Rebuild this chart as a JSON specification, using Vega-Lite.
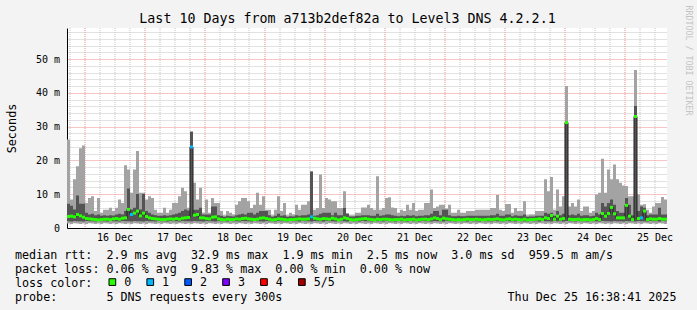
{
  "$schema": "https://vega.github.io/schema/vega-lite/v6.json",
  "width": 600,
  "height": 200,
  "autosize": {"type": "none"},
  "padding": {"left": 67, "top": 28, "right": 30, "bottom": 82},
  "background": "#f3f3f3",
  "config": {
    "font": "DejaVu Sans Mono",
    "view": {"fill": "#ffffff", "stroke": null},
    "axis": {"labelFont": "DejaVu Sans Mono", "titleFont": "DejaVu Sans Mono", "labelColor": "#000000", "titleColor": "#000000", "titleFontWeight": "normal"},
    "tick": {"opacity": 1}
  },
  "title": {
    "text": "Last 10 Days from a713b2def82a to Level3 DNS 4.2.2.1",
    "font": "DejaVu Sans Mono", "fontSize": 13.3, "fontWeight": "normal", "color": "#000000",
    "anchor": "middle", "frame": "group", "dx": -19.5, "offset": -31.5, "baseline": "alphabetic"
  },
  "data": {"values": [
{"t":"2025-12-15T17:00Z","lo":1.3,"a":2,"m":3.4,"b":7.2,"hi":26.2,"l":"0"},
{"t":"2025-12-15T18:12Z","lo":1.2,"a":1.9,"m":3.5,"b":6.6,"hi":8.4,"l":"0"},
{"t":"2025-12-15T19:24Z","lo":1.4,"a":2.1,"m":3.3,"b":5.5,"hi":14.4,"l":"0"},
{"t":"2025-12-15T20:36Z","lo":1.3,"a":2,"m":4,"b":9.6,"hi":18.3,"l":"0"},
{"t":"2025-12-15T21:48Z","lo":1.2,"a":2,"m":3.6,"b":7.2,"hi":23.6,"l":"0"},
{"t":"2025-12-15T23:00Z","lo":1.3,"a":1.9,"m":3.2,"b":7.2,"hi":24.4,"l":"0"},
{"t":"2025-12-16T00:12Z","lo":1.2,"a":2.1,"m":2.8,"b":4.5,"hi":7.4,"l":"0"},
{"t":"2025-12-16T01:24Z","lo":1.4,"a":2,"m":2.7,"b":4,"hi":8.9,"l":"0"},
{"t":"2025-12-16T02:36Z","lo":1.3,"a":2,"m":2.6,"b":4.2,"hi":9.4,"l":"0"},
{"t":"2025-12-16T03:48Z","lo":1.2,"a":1.9,"m":2.5,"b":3.8,"hi":5,"l":"0"},
{"t":"2025-12-16T05:00Z","lo":1.3,"a":2.1,"m":2.4,"b":4,"hi":8.9,"l":"0"},
{"t":"2025-12-16T06:12Z","lo":1.2,"a":2,"m":2.5,"b":3.6,"hi":4.5,"l":"0"},
{"t":"2025-12-16T07:24Z","lo":1.4,"a":2,"m":2.6,"b":3.8,"hi":5.4,"l":"0"},
{"t":"2025-12-16T08:36Z","lo":1.3,"a":1.9,"m":2.6,"b":3.6,"hi":5.4,"l":"0"},
{"t":"2025-12-16T09:48Z","lo":1.2,"a":2.1,"m":2.5,"b":3.8,"hi":6,"l":"0"},
{"t":"2025-12-16T11:00Z","lo":1.3,"a":2,"m":2.7,"b":3.7,"hi":5,"l":"0"},
{"t":"2025-12-16T12:12Z","lo":1.2,"a":2,"m":2.8,"b":4,"hi":6,"l":"0"},
{"t":"2025-12-16T13:24Z","lo":1.4,"a":1.9,"m":2.6,"b":4.2,"hi":8.4,"l":"0"},
{"t":"2025-12-16T14:36Z","lo":1.3,"a":2.1,"m":2.9,"b":4,"hi":7.4,"l":"0"},
{"t":"2025-12-16T15:48Z","lo":1.2,"a":2,"m":3,"b":5,"hi":18.6,"l":"0"},
{"t":"2025-12-16T17:00Z","lo":1.3,"a":2,"m":5.5,"b":11.7,"hi":17.3,"l":"0"},
{"t":"2025-12-16T18:12Z","lo":1.2,"a":1.9,"m":4,"b":5.5,"hi":10.4,"l":"1"},
{"t":"2025-12-16T19:24Z","lo":1.4,"a":2.1,"m":4.4,"b":6,"hi":17.3,"l":"0"},
{"t":"2025-12-16T20:36Z","lo":1.3,"a":2,"m":5,"b":10.1,"hi":22.8,"l":"0"},
{"t":"2025-12-16T21:48Z","lo":1.2,"a":2,"m":3.6,"b":5.5,"hi":10.4,"l":"0"},
{"t":"2025-12-16T23:00Z","lo":1.3,"a":1.9,"m":4.4,"b":10.1,"hi":10.4,"l":"0"},
{"t":"2025-12-17T00:12Z","lo":1.2,"a":2.1,"m":3.4,"b":5,"hi":8.4,"l":"0"},
{"t":"2025-12-17T01:24Z","lo":1.4,"a":2,"m":3,"b":4.5,"hi":9.4,"l":"0"},
{"t":"2025-12-17T02:36Z","lo":1.3,"a":2,"m":2.8,"b":4,"hi":8.9,"l":"0"},
{"t":"2025-12-17T03:48Z","lo":1.2,"a":1.9,"m":2.7,"b":3.8,"hi":5.4,"l":"0"},
{"t":"2025-12-17T05:00Z","lo":1.3,"a":2.1,"m":2.6,"b":3.6,"hi":4.5,"l":"0"},
{"t":"2025-12-17T06:12Z","lo":1.2,"a":2,"m":2.5,"b":3.6,"hi":4.5,"l":"0"},
{"t":"2025-12-17T07:24Z","lo":1.4,"a":2,"m":2.5,"b":3.8,"hi":6,"l":"0"},
{"t":"2025-12-17T08:36Z","lo":1.3,"a":1.9,"m":2.6,"b":3.6,"hi":4.5,"l":"0"},
{"t":"2025-12-17T09:48Z","lo":1.2,"a":2.1,"m":2.7,"b":3.8,"hi":5.4,"l":"0"},
{"t":"2025-12-17T11:00Z","lo":1.3,"a":2,"m":2.6,"b":4,"hi":7.4,"l":"0"},
{"t":"2025-12-17T12:12Z","lo":1.2,"a":2,"m":2.8,"b":4.2,"hi":7.4,"l":"0"},
{"t":"2025-12-17T13:24Z","lo":1.4,"a":1.9,"m":2.6,"b":4.5,"hi":9.4,"l":"0"},
{"t":"2025-12-17T14:36Z","lo":1.3,"a":2.1,"m":2.9,"b":5,"hi":11.9,"l":"0"},
{"t":"2025-12-17T15:48Z","lo":1.2,"a":2,"m":3,"b":5.5,"hi":10.9,"l":"0"},
{"t":"2025-12-17T17:00Z","lo":1.3,"a":2,"m":3.1,"b":5.2,"hi":6,"l":"0"},
{"t":"2025-12-17T18:12Z","lo":1.2,"a":1.9,"m":24,"b":28.5,"hi":28.6,"l":"1"},
{"t":"2025-12-17T19:24Z","lo":1.4,"a":2.1,"m":3.8,"b":5.4,"hi":13.4,"l":"0"},
{"t":"2025-12-17T20:36Z","lo":1.3,"a":2,"m":4,"b":5.4,"hi":8.4,"l":"0"},
{"t":"2025-12-17T21:48Z","lo":1.2,"a":2,"m":3,"b":6,"hi":11.9,"l":"0"},
{"t":"2025-12-17T23:00Z","lo":1.3,"a":1.9,"m":3,"b":4,"hi":4.5,"l":"0"},
{"t":"2025-12-18T00:12Z","lo":1.2,"a":2.1,"m":2.8,"b":4,"hi":8.4,"l":"0"},
{"t":"2025-12-18T01:24Z","lo":1.4,"a":2,"m":2.7,"b":4,"hi":4.5,"l":"0"},
{"t":"2025-12-18T02:36Z","lo":1.3,"a":2,"m":3.2,"b":6.4,"hi":8.9,"l":"0"},
{"t":"2025-12-18T03:48Z","lo":1.2,"a":1.9,"m":3.3,"b":6.4,"hi":7.4,"l":"0"},
{"t":"2025-12-18T05:00Z","lo":1.3,"a":2.1,"m":2.7,"b":3.8,"hi":7.4,"l":"0"},
{"t":"2025-12-18T06:12Z","lo":1.2,"a":2,"m":2.5,"b":3.6,"hi":5,"l":"0"},
{"t":"2025-12-18T07:24Z","lo":1.4,"a":2,"m":2.4,"b":3.3,"hi":3.8,"l":"0"},
{"t":"2025-12-18T08:36Z","lo":1.3,"a":1.9,"m":2.6,"b":3.6,"hi":5,"l":"0"},
{"t":"2025-12-18T09:48Z","lo":1.2,"a":2.1,"m":2.5,"b":3.5,"hi":4.5,"l":"0"},
{"t":"2025-12-18T11:00Z","lo":1.3,"a":2,"m":2.5,"b":3.4,"hi":4,"l":"0"},
{"t":"2025-12-18T12:12Z","lo":1.2,"a":2,"m":2.7,"b":3.8,"hi":6.9,"l":"0"},
{"t":"2025-12-18T13:24Z","lo":1.4,"a":1.9,"m":2.6,"b":4,"hi":7.9,"l":"0"},
{"t":"2025-12-18T14:36Z","lo":1.3,"a":2.1,"m":2.8,"b":4.2,"hi":8.9,"l":"0"},
{"t":"2025-12-18T15:48Z","lo":1.2,"a":2,"m":2.9,"b":4,"hi":8.9,"l":"0"},
{"t":"2025-12-18T17:00Z","lo":1.3,"a":2,"m":2.7,"b":4.5,"hi":7.9,"l":"0"},
{"t":"2025-12-18T18:12Z","lo":1.2,"a":1.9,"m":2.6,"b":4.5,"hi":5.9,"l":"0"},
{"t":"2025-12-18T19:24Z","lo":1.4,"a":2.1,"m":2.5,"b":4,"hi":6.9,"l":"0"},
{"t":"2025-12-18T20:36Z","lo":1.3,"a":2,"m":2.6,"b":4.5,"hi":10.4,"l":"0"},
{"t":"2025-12-18T21:48Z","lo":1.2,"a":2,"m":2.9,"b":5,"hi":6.9,"l":"0"},
{"t":"2025-12-18T23:00Z","lo":1.3,"a":1.9,"m":3,"b":5,"hi":9.4,"l":"0"},
{"t":"2025-12-19T00:12Z","lo":1.2,"a":2.1,"m":2.8,"b":5,"hi":5.4,"l":"0"},
{"t":"2025-12-19T01:24Z","lo":1.4,"a":2,"m":2.6,"b":3.8,"hi":5.4,"l":"0"},
{"t":"2025-12-19T02:36Z","lo":1.3,"a":2,"m":2.4,"b":3.3,"hi":3.8,"l":"0"},
{"t":"2025-12-19T03:48Z","lo":1.2,"a":1.9,"m":2.5,"b":3.6,"hi":5.4,"l":"0"},
{"t":"2025-12-19T05:00Z","lo":1.3,"a":2.1,"m":2.7,"b":4.2,"hi":9.4,"l":"0"},
{"t":"2025-12-19T06:12Z","lo":1.2,"a":2,"m":2.6,"b":3.6,"hi":5,"l":"0"},
{"t":"2025-12-19T07:24Z","lo":1.4,"a":2,"m":2.5,"b":3.8,"hi":7.4,"l":"0"},
{"t":"2025-12-19T08:36Z","lo":1.3,"a":1.9,"m":2.4,"b":3.3,"hi":3.8,"l":"0"},
{"t":"2025-12-19T09:48Z","lo":1.2,"a":2.1,"m":2.5,"b":3.5,"hi":4.5,"l":"0"},
{"t":"2025-12-19T11:00Z","lo":1.3,"a":2,"m":2.5,"b":3.4,"hi":4,"l":"0"},
{"t":"2025-12-19T12:12Z","lo":1.2,"a":2,"m":2.6,"b":3.8,"hi":6.9,"l":"0"},
{"t":"2025-12-19T13:24Z","lo":1.4,"a":1.9,"m":2.7,"b":3.6,"hi":5.4,"l":"0"},
{"t":"2025-12-19T14:36Z","lo":1.3,"a":2.1,"m":2.6,"b":3.8,"hi":6.9,"l":"0"},
{"t":"2025-12-19T15:48Z","lo":1.2,"a":2,"m":2.6,"b":3.8,"hi":6.9,"l":"0"},
{"t":"2025-12-19T17:00Z","lo":1.3,"a":2,"m":2.7,"b":4,"hi":7.9,"l":"0"},
{"t":"2025-12-19T18:12Z","lo":1.2,"a":1.9,"m":3.3,"b":16.7,"hi":16.7,"l":"1"},
{"t":"2025-12-19T19:24Z","lo":1.4,"a":2.1,"m":2.9,"b":3.6,"hi":5.4,"l":"0"},
{"t":"2025-12-19T20:36Z","lo":1.3,"a":2,"m":2.7,"b":3.8,"hi":5.9,"l":"0"},
{"t":"2025-12-19T21:48Z","lo":1.2,"a":2,"m":2.6,"b":4.2,"hi":15.8,"l":"0"},
{"t":"2025-12-19T23:00Z","lo":1.3,"a":1.9,"m":2.8,"b":4.5,"hi":5.9,"l":"0"},
{"t":"2025-12-20T00:12Z","lo":1.2,"a":2.1,"m":2.7,"b":4.5,"hi":8.9,"l":"0"},
{"t":"2025-12-20T01:24Z","lo":1.4,"a":2,"m":2.6,"b":4.5,"hi":8.4,"l":"0"},
{"t":"2025-12-20T02:36Z","lo":1.3,"a":2,"m":2.9,"b":3.8,"hi":7.9,"l":"0"},
{"t":"2025-12-20T03:48Z","lo":1.2,"a":1.9,"m":2.7,"b":4.5,"hi":7.9,"l":"0"},
{"t":"2025-12-20T05:00Z","lo":1.3,"a":2.1,"m":2.4,"b":3.8,"hi":5.9,"l":"0"},
{"t":"2025-12-20T06:12Z","lo":1.2,"a":2,"m":2.6,"b":3.8,"hi":5.9,"l":"0"},
{"t":"2025-12-20T07:24Z","lo":1.4,"a":2,"m":3,"b":5.9,"hi":10.9,"l":"0"},
{"t":"2025-12-20T08:36Z","lo":1.3,"a":1.9,"m":2.8,"b":4.2,"hi":4.4,"l":"0"},
{"t":"2025-12-20T09:48Z","lo":1.2,"a":2.1,"m":2.5,"b":3.4,"hi":3.8,"l":"0"},
{"t":"2025-12-20T11:00Z","lo":1.3,"a":2,"m":2.4,"b":3.4,"hi":3.8,"l":"0"},
{"t":"2025-12-20T12:12Z","lo":1.2,"a":2,"m":2.5,"b":3.6,"hi":4.5,"l":"0"},
{"t":"2025-12-20T13:24Z","lo":1.4,"a":1.9,"m":2.6,"b":3.6,"hi":4.5,"l":"0"},
{"t":"2025-12-20T14:36Z","lo":1.3,"a":2.1,"m":2.7,"b":3.8,"hi":6.1,"l":"0"},
{"t":"2025-12-20T15:48Z","lo":1.2,"a":2,"m":2.8,"b":3.8,"hi":6.1,"l":"0"},
{"t":"2025-12-20T17:00Z","lo":1.3,"a":2,"m":2.6,"b":3.8,"hi":6.9,"l":"0"},
{"t":"2025-12-20T18:12Z","lo":1.2,"a":1.9,"m":2.5,"b":3.6,"hi":5.9,"l":"0"},
{"t":"2025-12-20T19:24Z","lo":1.4,"a":2.1,"m":2.4,"b":3.6,"hi":5.4,"l":"0"},
{"t":"2025-12-20T20:36Z","lo":1.3,"a":2,"m":2.6,"b":4.2,"hi":15.3,"l":"0"},
{"t":"2025-12-20T21:48Z","lo":1.2,"a":2,"m":2.5,"b":3.6,"hi":5.4,"l":"0"},
{"t":"2025-12-20T23:00Z","lo":1.3,"a":1.9,"m":2.6,"b":3.8,"hi":5.9,"l":"0"},
{"t":"2025-12-21T00:12Z","lo":1.2,"a":2.1,"m":2.6,"b":4,"hi":8.9,"l":"0"},
{"t":"2025-12-21T01:24Z","lo":1.4,"a":2,"m":2.5,"b":4,"hi":9.1,"l":"0"},
{"t":"2025-12-21T02:36Z","lo":1.3,"a":2,"m":2.4,"b":3.8,"hi":6.1,"l":"0"},
{"t":"2025-12-21T03:48Z","lo":1.2,"a":1.9,"m":2.5,"b":3.6,"hi":5.9,"l":"0"},
{"t":"2025-12-21T05:00Z","lo":1.3,"a":2.1,"m":2.5,"b":3.5,"hi":4.5,"l":"0"},
{"t":"2025-12-21T06:12Z","lo":1.2,"a":2,"m":2.6,"b":3.6,"hi":5.4,"l":"0"},
{"t":"2025-12-21T07:24Z","lo":1.4,"a":2,"m":2.4,"b":3.5,"hi":5,"l":"0"},
{"t":"2025-12-21T08:36Z","lo":1.3,"a":1.9,"m":2.5,"b":3.8,"hi":6.9,"l":"0"},
{"t":"2025-12-21T09:48Z","lo":1.2,"a":2.1,"m":2.5,"b":3.6,"hi":5.4,"l":"0"},
{"t":"2025-12-21T11:00Z","lo":1.3,"a":2,"m":2.6,"b":3.8,"hi":7.4,"l":"0"},
{"t":"2025-12-21T12:12Z","lo":1.2,"a":2,"m":2.4,"b":3.5,"hi":5,"l":"0"},
{"t":"2025-12-21T13:24Z","lo":1.4,"a":1.9,"m":2.5,"b":3.6,"hi":5.4,"l":"0"},
{"t":"2025-12-21T14:36Z","lo":1.3,"a":2.1,"m":2.6,"b":3.6,"hi":5.4,"l":"0"},
{"t":"2025-12-21T15:48Z","lo":1.2,"a":2,"m":2.6,"b":3.8,"hi":7.4,"l":"0"},
{"t":"2025-12-21T17:00Z","lo":1.3,"a":2,"m":2.5,"b":3.8,"hi":7.4,"l":"0"},
{"t":"2025-12-21T18:12Z","lo":1.2,"a":1.9,"m":2.7,"b":4.2,"hi":11.4,"l":"0"},
{"t":"2025-12-21T19:24Z","lo":1.4,"a":2.1,"m":3,"b":5,"hi":5.9,"l":"0"},
{"t":"2025-12-21T20:36Z","lo":1.3,"a":2,"m":2.8,"b":5,"hi":6.4,"l":"0"},
{"t":"2025-12-21T21:48Z","lo":1.2,"a":2,"m":2.5,"b":3.8,"hi":6.9,"l":"0"},
{"t":"2025-12-21T23:00Z","lo":1.3,"a":1.9,"m":2.9,"b":5.4,"hi":6.9,"l":"0"},
{"t":"2025-12-22T00:12Z","lo":1.2,"a":2.1,"m":2.7,"b":5.4,"hi":5.8,"l":"0"},
{"t":"2025-12-22T01:24Z","lo":1.4,"a":2,"m":2.6,"b":3.8,"hi":6.9,"l":"0"},
{"t":"2025-12-22T02:36Z","lo":1.3,"a":2,"m":2.5,"b":3.5,"hi":4.5,"l":"0"},
{"t":"2025-12-22T03:48Z","lo":1.2,"a":1.9,"m":2.4,"b":3.5,"hi":4.5,"l":"0"},
{"t":"2025-12-22T05:00Z","lo":1.3,"a":2.1,"m":2.5,"b":3.6,"hi":5.4,"l":"0"},
{"t":"2025-12-22T06:12Z","lo":1.2,"a":2,"m":2.4,"b":3.5,"hi":4.5,"l":"0"},
{"t":"2025-12-22T07:24Z","lo":1.4,"a":2,"m":2.5,"b":3.5,"hi":4.5,"l":"0"},
{"t":"2025-12-22T08:36Z","lo":1.3,"a":1.9,"m":2.6,"b":3.6,"hi":5,"l":"0"},
{"t":"2025-12-22T09:48Z","lo":1.2,"a":2.1,"m":2.5,"b":3.6,"hi":5,"l":"0"},
{"t":"2025-12-22T11:00Z","lo":1.3,"a":2,"m":2.5,"b":3.6,"hi":5,"l":"0"},
{"t":"2025-12-22T12:12Z","lo":1.2,"a":2,"m":2.6,"b":3.6,"hi":5.4,"l":"0"},
{"t":"2025-12-22T13:24Z","lo":1.4,"a":1.9,"m":2.5,"b":3.6,"hi":5.4,"l":"0"},
{"t":"2025-12-22T14:36Z","lo":1.3,"a":2.1,"m":2.4,"b":3.6,"hi":5.4,"l":"0"},
{"t":"2025-12-22T15:48Z","lo":1.2,"a":2,"m":2.5,"b":3.6,"hi":5.4,"l":"0"},
{"t":"2025-12-22T17:00Z","lo":1.3,"a":2,"m":2.6,"b":3.6,"hi":5.4,"l":"0"},
{"t":"2025-12-22T18:12Z","lo":1.2,"a":1.9,"m":2.5,"b":3.8,"hi":5.9,"l":"0"},
{"t":"2025-12-22T19:24Z","lo":1.4,"a":2.1,"m":2.6,"b":3.8,"hi":5.9,"l":"0"},
{"t":"2025-12-22T20:36Z","lo":1.3,"a":2,"m":2.7,"b":4.2,"hi":9.8,"l":"0"},
{"t":"2025-12-22T21:48Z","lo":1.2,"a":2,"m":2.5,"b":3.6,"hi":5.4,"l":"0"},
{"t":"2025-12-22T23:00Z","lo":1.3,"a":1.9,"m":2.4,"b":3.6,"hi":5,"l":"0"},
{"t":"2025-12-23T00:12Z","lo":1.2,"a":2.1,"m":2.6,"b":4,"hi":7.1,"l":"0"},
{"t":"2025-12-23T01:24Z","lo":1.4,"a":2,"m":2.7,"b":4,"hi":7.1,"l":"0"},
{"t":"2025-12-23T02:36Z","lo":1.3,"a":2,"m":2.5,"b":3.5,"hi":4.5,"l":"0"},
{"t":"2025-12-23T03:48Z","lo":1.2,"a":1.9,"m":2.6,"b":3.8,"hi":5.9,"l":"0"},
{"t":"2025-12-23T05:00Z","lo":1.3,"a":2.1,"m":2.5,"b":3.6,"hi":5,"l":"0"},
{"t":"2025-12-23T06:12Z","lo":1.2,"a":2,"m":2.4,"b":3.6,"hi":5,"l":"0"},
{"t":"2025-12-23T07:24Z","lo":1.4,"a":2,"m":2.6,"b":4,"hi":7.9,"l":"0"},
{"t":"2025-12-23T08:36Z","lo":1.3,"a":1.9,"m":2.4,"b":3.3,"hi":3.8,"l":"0"},
{"t":"2025-12-23T09:48Z","lo":1.2,"a":2.1,"m":2.5,"b":3.4,"hi":4,"l":"0"},
{"t":"2025-12-23T11:00Z","lo":1.3,"a":2,"m":2.5,"b":3.4,"hi":4,"l":"0"},
{"t":"2025-12-23T12:12Z","lo":1.2,"a":2,"m":2.6,"b":3.6,"hi":5,"l":"0"},
{"t":"2025-12-23T13:24Z","lo":1.4,"a":1.9,"m":2.7,"b":3.6,"hi":5,"l":"0"},
{"t":"2025-12-23T14:36Z","lo":1.3,"a":2.1,"m":2.5,"b":3.6,"hi":5,"l":"0"},
{"t":"2025-12-23T15:48Z","lo":1.2,"a":2,"m":3,"b":4.5,"hi":14.4,"l":"0"},
{"t":"2025-12-23T17:00Z","lo":1.3,"a":2,"m":2.8,"b":4.2,"hi":10.9,"l":"0"},
{"t":"2025-12-23T18:12Z","lo":1.2,"a":1.9,"m":3.7,"b":4.5,"hi":15.1,"l":"0"},
{"t":"2025-12-23T19:24Z","lo":1.4,"a":2.1,"m":2.6,"b":3.6,"hi":5.4,"l":"0"},
{"t":"2025-12-23T20:36Z","lo":1.3,"a":2,"m":3.5,"b":5,"hi":11.4,"l":"0"},
{"t":"2025-12-23T21:48Z","lo":1.2,"a":2,"m":2.6,"b":3.8,"hi":6.4,"l":"0"},
{"t":"2025-12-23T23:00Z","lo":1.3,"a":1.9,"m":2.8,"b":4.2,"hi":9.4,"l":"0"},
{"t":"2025-12-24T00:12Z","lo":1.2,"a":2.1,"m":31.2,"b":31.7,"hi":42,"l":"0"},
{"t":"2025-12-24T01:24Z","lo":1.4,"a":2,"m":2.6,"b":3.8,"hi":6.4,"l":"0"},
{"t":"2025-12-24T02:36Z","lo":1.3,"a":2,"m":2.5,"b":4,"hi":7.4,"l":"0"},
{"t":"2025-12-24T03:48Z","lo":1.2,"a":1.9,"m":2.5,"b":3.8,"hi":6.4,"l":"0"},
{"t":"2025-12-24T05:00Z","lo":1.3,"a":2.1,"m":2.6,"b":4.2,"hi":8.4,"l":"0"},
{"t":"2025-12-24T06:12Z","lo":1.2,"a":2,"m":2.4,"b":3.6,"hi":5,"l":"0"},
{"t":"2025-12-24T07:24Z","lo":1.4,"a":2,"m":2.5,"b":3.8,"hi":6.4,"l":"0"},
{"t":"2025-12-24T08:36Z","lo":1.3,"a":1.9,"m":2.5,"b":3.8,"hi":6.4,"l":"0"},
{"t":"2025-12-24T09:48Z","lo":1.2,"a":2.1,"m":2.4,"b":3.5,"hi":4.5,"l":"0"},
{"t":"2025-12-24T11:00Z","lo":1.3,"a":2,"m":2.5,"b":3.6,"hi":5,"l":"0"},
{"t":"2025-12-24T12:12Z","lo":1.2,"a":2,"m":2.8,"b":4.5,"hi":9.9,"l":"0"},
{"t":"2025-12-24T13:24Z","lo":1.4,"a":1.9,"m":2.5,"b":4,"hi":10.4,"l":"0"},
{"t":"2025-12-24T14:36Z","lo":1.3,"a":2.1,"m":4.3,"b":7.4,"hi":20.5,"l":"0"},
{"t":"2025-12-24T15:48Z","lo":1.2,"a":2,"m":3.5,"b":6.4,"hi":10.4,"l":"0"},
{"t":"2025-12-24T17:00Z","lo":1.3,"a":2,"m":4.3,"b":7.4,"hi":17.3,"l":"0"},
{"t":"2025-12-24T18:12Z","lo":1.2,"a":1.9,"m":6.1,"b":8.4,"hi":14.4,"l":"0"},
{"t":"2025-12-24T19:24Z","lo":1.4,"a":2.1,"m":4.2,"b":6.9,"hi":18.8,"l":"0"},
{"t":"2025-12-24T20:36Z","lo":1.3,"a":2,"m":3,"b":5,"hi":14.4,"l":"0"},
{"t":"2025-12-24T21:48Z","lo":1.2,"a":2,"m":3,"b":4.5,"hi":13.4,"l":"0"},
{"t":"2025-12-24T23:00Z","lo":1.3,"a":1.9,"m":3,"b":4.5,"hi":12.6,"l":"0"},
{"t":"2025-12-25T00:12Z","lo":1.2,"a":2.1,"m":6.7,"b":8.9,"hi":12.4,"l":"0"},
{"t":"2025-12-25T01:24Z","lo":1.4,"a":2,"m":3.5,"b":6.9,"hi":9.4,"l":"0"},
{"t":"2025-12-25T02:36Z","lo":1.3,"a":2,"m":2.5,"b":3.8,"hi":9.4,"l":"0"},
{"t":"2025-12-25T03:48Z","lo":1.2,"a":1.9,"m":33,"b":36.1,"hi":46.8,"l":"0"},
{"t":"2025-12-25T05:00Z","lo":1.3,"a":2.1,"m":2.8,"b":5,"hi":9.9,"l":"0"},
{"t":"2025-12-25T06:12Z","lo":1.2,"a":2,"m":3,"b":6.4,"hi":6.9,"l":"1"},
{"t":"2025-12-25T07:24Z","lo":1.4,"a":2,"m":5,"b":6,"hi":7,"l":"0"},
{"t":"2025-12-25T08:36Z","lo":1.3,"a":1.9,"m":2.5,"b":3.8,"hi":5.4,"l":"0"},
{"t":"2025-12-25T09:48Z","lo":1.2,"a":2.1,"m":2.7,"b":4,"hi":4.5,"l":"0"},
{"t":"2025-12-25T11:00Z","lo":1.3,"a":2,"m":2.6,"b":4,"hi":6.4,"l":"0"},
{"t":"2025-12-25T12:12Z","lo":1.2,"a":2,"m":2.6,"b":4,"hi":7.4,"l":"0"},
{"t":"2025-12-25T13:24Z","lo":1.4,"a":1.9,"m":2.8,"b":6,"hi":7.4,"l":"0"},
{"t":"2025-12-25T14:36Z","lo":1.3,"a":2.1,"m":2.6,"b":4,"hi":9.2,"l":"0"},
{"t":"2025-12-25T15:48Z","lo":1.2,"a":2,"m":2.6,"b":4,"hi":8.4,"l":"0"},
{"t":"2025-12-25T17:00Z","lo":1.2,"a":2,"m":2.6,"b":4,"hi":8.4,"l":"0"}
  ]},
  "layer": [
    {
      "mark": {"type": "area", "interpolate": "step-after", "color": "#a3a3a3", "clip": true},
      "encoding": {
        "x": {"field": "t", "type": "temporal",
          "scale": {"type": "utc", "domain": [1765818000000, 1766682000000]},
          "axis": {"orient": "bottom", "grid": true, "gridColor": "#c4c4c4", "gridDash": [1, 1], "translate": 0,
            "values": [1765821600000, 1765864800000, 1765886400000, 1765908000000, 1765951200000, 1765972800000, 1765994400000, 1766037600000, 1766059200000, 1766080800000, 1766124000000, 1766145600000, 1766167200000, 1766210400000, 1766232000000, 1766253600000, 1766296800000, 1766318400000, 1766340000000, 1766383200000, 1766404800000, 1766426400000, 1766469600000, 1766491200000, 1766512800000, 1766556000000, 1766577600000, 1766599200000, 1766642400000, 1766664000000],
            "labels": false, "ticks": false, "domain": false,
            "title": ["median rtt:\u00a0\u00a02.9 ms avg\u00a0\u00a032.9 ms max\u00a0\u00a01.9 ms min\u00a0\u00a02.5 ms now\u00a0\u00a03.0 ms sd\u00a0\u00a0959.5 m am/s",
                      "packet loss: 0.06 % avg\u00a0\u00a09.83 % max\u00a0\u00a00.00 % min\u00a0\u00a00.00 % now",
                      "loss color:",
                      "probe:\u00a0\u00a0\u00a0\u00a0\u00a0\u00a0\u00a05 DNS requests every 300s\u00a0\u00a0\u00a0\u00a0\u00a0\u00a0\u00a0\u00a0\u00a0\u00a0\u00a0\u00a0\u00a0\u00a0\u00a0\u00a0\u00a0\u00a0\u00a0\u00a0\u00a0\u00a0\u00a0\u00a0\u00a0\u00a0\u00a0\u00a0\u00a0\u00a0\u00a0\u00a0Thu Dec 25 16:38:41 2025"],
            "titleX": -52, "titleY": 30.5, "titleAlign": "left", "titleAnchor": "start", "titleBaseline": "alphabetic",
            "titleFontSize": 11.7, "titleLineHeight": 14}},
        "y": {"field": "lo", "type": "quantitative",
          "scale": {"domain": [0, 59.2], "nice": false, "zero": true},
          "axis": {"orient": "left", "grid": true, "gridColor": "#c4c4c4", "gridDash": [1, 1],
            "values": [2, 4, 6, 8, 12, 14, 16, 18, 22, 24, 26, 28, 32, 34, 36, 38, 42, 44, 46, 48, 52, 54, 56, 58],
            "labels": false, "ticks": false, "domain": false, "title": null}},
        "y2": {"field": "hi"}
      }
    },
    {
      "mark": {"type": "area", "interpolate": "step-after", "color": "#545454", "clip": true},
      "encoding": {
        "x": {"field": "t", "type": "temporal",
          "axis": {"orient": "bottom", "grid": true, "gridColor": "#f08a8a", "gridDash": [1, 1], "translate": 0,
            "values": [1765843200000, 1765929600000, 1766016000000, 1766102400000, 1766188800000, 1766275200000, 1766361600000, 1766448000000, 1766534400000, 1766620800000],
            "labels": false, "ticks": false, "domain": false, "title": null}},
        "y": {"field": "a", "type": "quantitative",
          "axis": {"orient": "left", "grid": true, "gridColor": "#f08a8a", "gridDash": [1, 1], "values": [10, 20, 30, 40, 50],
            "labels": false, "ticks": false, "domain": false, "title": null}},
        "y2": {"field": "b"}
      }
    },
    {
      "mark": {"type": "line", "interpolate": "step-after", "color": "#1e1e1e", "strokeWidth": 1, "clip": true},
      "encoding": {
        "x": {"field": "t", "type": "temporal",
          "axis": {"orient": "bottom", "grid": false,
            "values": [1765843200000, 1765929600000, 1766016000000, 1766102400000, 1766188800000, 1766275200000, 1766361600000, 1766448000000, 1766534400000, 1766620800000],
            "labelExpr": "utcFormat(datum.value, '%d %b')", "labelOffset": 30, "labelFlush": false, "labelOverlap": false,
            "labelFontSize": 10, "labelPadding": 4, "ticks": false, "domain": true, "domainColor": "#000000", "title": null}},
        "y": {"field": "m", "type": "quantitative",
          "axis": {"orient": "left", "grid": false, "values": [0, 10, 20, 30, 40, 50],
            "labelExpr": "datum.value == 0 ? '0\u00a0\u00a0' : datum.value + ' m'",
            "labelFontSize": 10, "labelPadding": 7.5, "ticks": false, "domain": true, "domainColor": "#000000",
            "title": "Seconds", "titleFontSize": 11.8, "titleX": -56, "titleY": 100, "titleAlign": "center", "titleBaseline": "middle", "titleAngle": -90}}
      }
    },
    {
      "mark": {"type": "tick", "orient": "horizontal", "size": 3, "thickness": 3, "xOffset": 1.5, "clip": true, "opacity": 1},
      "encoding": {
        "x": {"field": "t", "type": "temporal", "axis": null},
        "y": {"field": "m", "type": "quantitative",
          "axis": {"orient": "right", "grid": false, "labels": false, "ticks": false, "domain": false,
            "title": "RRDTOOL / TOBI OETIKER", "titleAngle": 90, "titleFontSize": 8.3, "titleColor": "#c4c4c4",
            "titleX": 20.7, "titleY": 32, "titleAlign": "center", "titleBaseline": "middle"}},
        "color": {"field": "l", "type": "nominal",
          "scale": {"domain": ["0", "1", "2", "3", "4", "5/5"], "range": ["#26ff00", "#00b8ff", "#0059ff", "#7e00ff", "#ff0000", "#a10000"]},
          "legend": {"orient": "none", "legendX": 39.5, "legendY": 248, "direction": "horizontal", "title": null,
            "symbolType": "square", "symbolSize": 45, "symbolStrokeColor": "#000000", "symbolStrokeWidth": 1, "symbolOpacity": 1,
            "labelFont": "DejaVu Sans Mono", "labelFontSize": 11.7, "labelColor": "#000000", "labelOffset": 6,
            "columnPadding": 12.9, "padding": 0, "offset": 0}}
      }
    }
  ],
  "resolve": {"axis": {"x": "independent", "y": "independent"}}
}
